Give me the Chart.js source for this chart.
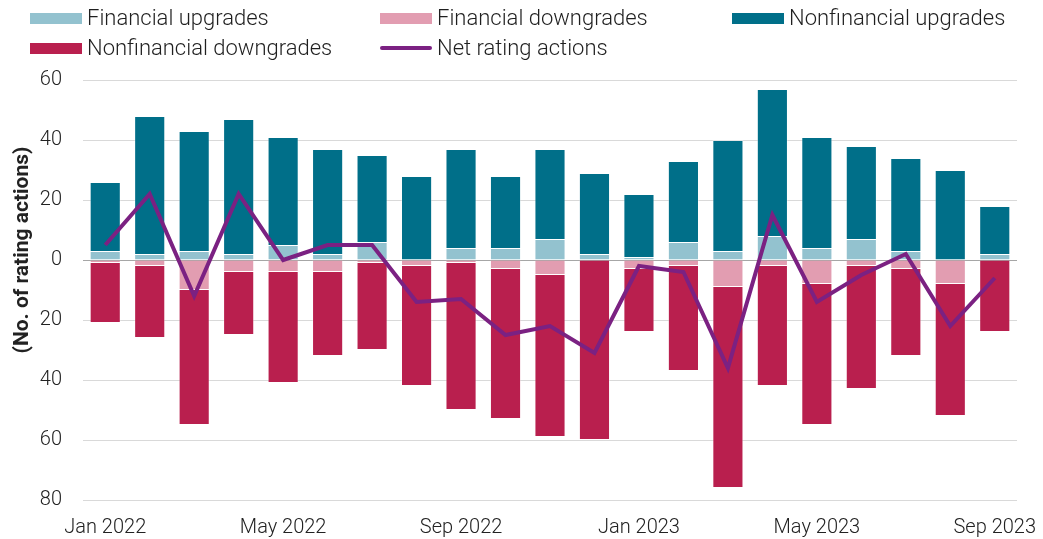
<!DOCTYPE html>
<html>
<head>
<meta charset="utf-8">
<script src="https://cdn.jsdelivr.net/npm/chart.js@4/dist/chart.umd.min.js"></script>
<style>
  html, body { margin: 0; padding: 0; background: #fff; }
  #wrap { position: relative; width: 1043px; height: 539px; overflow: hidden; }
  #c { position: absolute; left: 0; top: 0; }
  .lg { position: absolute; display: flex; align-items: center; font-family: Roboto, "Liberation Sans", sans-serif; font-weight: 300; font-size: 22px; color: #1f1f1f; white-space: nowrap; line-height: 1; }
  .sw { width: 52px; height: 11px; margin-right: 5px; flex: none; }
  .ln { width: 52px; height: 4px; margin-right: 5px; flex: none; border-radius: 2px; }
</style>
</head>
<body>
<div id="wrap">
  <canvas id="c" width="1043" height="539"></canvas>
  <div id="legend"></div>
</div>
<script>
// ---- data ----
const months = ['Jan 2022','Feb 2022','Mar 2022','Apr 2022','May 2022','Jun 2022','Jul 2022','Aug 2022','Sep 2022','Oct 2022','Nov 2022','Dec 2022',
                'Jan 2023','Feb 2023','Mar 2023','Apr 2023','May 2023','Jun 2023','Jul 2023','Aug 2023','Sep 2023'];
const financialUpgrades      = [3, 2, 3, 2, 5, 2, 6, 0, 4, 4, 7, 2, 1, 6, 3, 8, 4, 7, 3, 0, 2];
const nonfinancialUpgrades   = [23, 46, 40, 45, 36, 35, 29, 28, 33, 24, 30, 27, 21, 27, 37, 49, 37, 31, 31, 30, 16];
const financialDowngrades    = [1, 2, 10, 4, 4, 4, 1, 2, 1, 3, 5, 0, 3, 2, 9, 2, 8, 2, 3, 8, 0];
const nonfinancialDowngrades = [20, 24, 45, 21, 37, 28, 29, 40, 49, 50, 54, 60, 21, 35, 67, 40, 47, 41, 29, 44, 24];
const netRatingActions       = [5, 22, -12, 22, 0, 5, 5, -14, -13, -25, -22, -31, -2, -4, -36, 15, -14, -5, 2, -22, -6];
const yTicks = [60, 40, 20, 0, -20, -40, -60, -80];

const seriesNames = ['Financial upgrades','Financial downgrades','Nonfinancial upgrades','Nonfinancial downgrades','Net rating actions'];
const colors = {
  finUp: '#93c2cf', finDown: '#e29db1', nonUp: '#006f89', nonDown: '#b91f4e', net: '#7b2182'
};

const FONT = 'Roboto, "Liberation Sans", sans-serif';

// HTML legend with fixed columns
const legendItems = [
  { name: seriesNames[0], color: colors.finUp, x: 30, y: 18, line: false },
  { name: seriesNames[1], color: colors.finDown, x: 380, y: 18, line: false },
  { name: seriesNames[2], color: colors.nonUp, x: 732, y: 18, line: false },
  { name: seriesNames[3], color: colors.nonDown, x: 30, y: 48, line: false },
  { name: seriesNames[4], color: colors.net, x: 380, y: 48, line: true }
];
const lg = document.getElementById('legend');
legendItems.forEach(it => {
  const d = document.createElement('div');
  d.className = 'lg';
  d.style.left = it.x + 'px';
  d.style.top = (it.y - 11) + 'px';
  d.style.height = '22px';
  const s = document.createElement('span');
  s.className = it.line ? 'ln' : 'sw';
  s.style.background = it.color;
  const t = document.createElement('span');
  t.textContent = it.name;
  d.appendChild(s); d.appendChild(t);
  lg.appendChild(d);
});

const yTitlePlugin = {
  id: 'yTitle',
  afterDraw(chart) {
    const ctx = chart.ctx;
    ctx.save();
    ctx.translate(23, 250);
    ctx.rotate(-Math.PI / 2);
    ctx.font = 'bold 21px ' + FONT;
    ctx.fillStyle = '#222';
    ctx.textAlign = 'center';
    ctx.textBaseline = 'middle';
    ctx.fillText('(No. of rating actions)', 0, 0);
    ctx.restore();
  }
};

const barCommon = { borderWidth: 1, borderColor: 'rgba(255,255,255,0.35)', barPercentage: 0.7, categoryPercentage: 1.0, stack: 'ratings', order: 1 };

const chart = new Chart(document.getElementById('c'), {
  type: 'bar',
  data: {
    labels: months,
    datasets: [
      Object.assign({ label: seriesNames[0], data: financialUpgrades, backgroundColor: colors.finUp }, barCommon),
      Object.assign({ label: seriesNames[1], data: financialDowngrades.map(v => -v), backgroundColor: colors.finDown }, barCommon),
      Object.assign({ label: seriesNames[2], data: nonfinancialUpgrades, backgroundColor: colors.nonUp }, barCommon),
      Object.assign({ label: seriesNames[3], data: nonfinancialDowngrades.map(v => -v), backgroundColor: colors.nonDown }, barCommon),
      { type: 'line', label: seriesNames[4], data: netRatingActions, borderColor: colors.net, backgroundColor: colors.net,
        borderWidth: 4, pointRadius: 0, tension: 0, stack: 'net', order: 0, fill: false }
    ]
  },
  options: {
    responsive: false,
    animation: false,
    layout: { padding: { top: 80, right: 26, left: 0, bottom: 0 } },
    plugins: { legend: { display: false }, tooltip: { enabled: false } },
    scales: {
      x: {
        stacked: true,
        grid: { display: false, drawTicks: false },
        border: { display: false },
        ticks: {
          autoSkip: false, maxRotation: 0, padding: 16,
          font: { family: FONT, size: 20, weight: 300 }, color: '#222',
          callback: (v, i) => (i % 4 === 0 ? months[i] : '')
        },
        afterFit: s => { s.height = 39; s.paddingLeft = 0; s.paddingRight = 0; }
      },
      y: {
        stacked: true,
        min: -80, max: 60,
        afterBuildTicks: s => { s.ticks = yTicks.map(v => ({ value: v })); },
        grid: { color: c => (c.tick && c.tick.value === 0 ? '#a6a6a6' : '#d9d9d9'), drawTicks: false, lineWidth: 1 },
        border: { display: false },
        ticks: {
          padding: 21,
          font: { family: FONT, size: 20, weight: 300 }, color: '#222',
          callback: v => Math.abs(v)
        },
        afterFit: s => { s.width = 83; s.paddingTop = 0; s.paddingBottom = 0; }
      }
    }
  },
  plugins: [yTitlePlugin]
});
</script>
</body>
</html>
